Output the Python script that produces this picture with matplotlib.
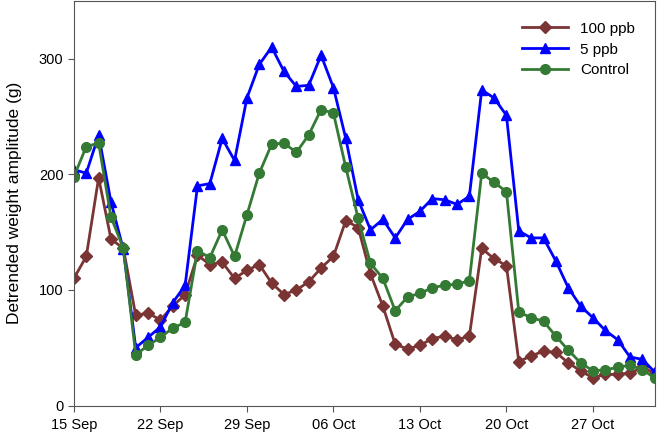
import datetime as dt
import matplotlib
matplotlib.use("Agg")
import matplotlib.pyplot as plt
import matplotlib.dates as mdates

plt.rcParams['font.family'] = ['Liberation Sans', 'DejaVu Sans']

# one value per day, 15 Sep to 1 Nov
inicio = dt.date(2012, 9, 15)
dias = [inicio + dt.timedelta(days=i) for i in range(48)]
marcas = [inicio + dt.timedelta(days=7 * k) for k in range(7)]

ppb100 = [110, 129, 197, 144, 136, 78, 80, 74, 86, 96,
          130, 122, 124, 110, 117, 122, 106, 96, 100, 107,
          119, 129, 160, 154, 114, 86, 53, 49, 52, 58,
          60, 57, 60, 136, 127, 121, 38, 43, 47, 46,
          37, 30, 24, 27, 27, 28, 33, 28]

ppb5 = [204, 201, 234, 176, 135, 50, 59, 68, 89, 104,
        190, 192, 231, 212, 266, 295, 310, 289, 276, 277,
        303, 275, 231, 178, 152, 161, 145, 161, 168, 179,
        178, 174, 181, 273, 266, 251, 151, 145, 145, 125,
        102, 86, 76, 65, 57, 42, 40, 29]

controle = [198, 224, 227, 163, 136, 44, 52, 59, 67, 72,
            134, 128, 152, 129, 165, 201, 226, 227, 219, 234,
            256, 253, 206, 162, 123, 110, 82, 94, 97, 102,
            104, 105, 108, 201, 193, 185, 81, 76, 73, 60,
            48, 37, 30, 31, 33, 35, 31, 24]

fig = plt.figure(figsize=(6.6, 4.38), dpi=100)
ax = fig.add_axes([0.112, 0.074, 0.88, 0.924])

ax.plot(dias, ppb100, color="#7a3434", marker="D", markersize=6, linewidth=2, label="100 ppb")
ax.plot(dias, ppb5, color="#0000ff", marker="^", markersize=7, linewidth=2, label="5 ppb")
ax.plot(dias, controle, color="#347a34", marker="o", markersize=7, linewidth=2, label="Control")

ax.set_xlim(dias[0], dias[-1])
ax.set_ylim(0, 350)
ax.set_yticks([0, 100, 200, 300])
ax.set_xticks(marcas)
ax.xaxis.set_major_formatter(mdates.DateFormatter("%d %b"))

ax.set_ylabel("Detrended weight amplitude (g)", fontsize=12.5, labelpad=12)
ax.tick_params(labelsize=10.5, direction="out", length=4, color="#555555")
ax.tick_params(axis="x", pad=5)
for s in ax.spines.values():
    s.set_color("#555555")

ax.legend(loc="upper right", frameon=False, fontsize=11, handlelength=3.0,
          borderaxespad=0.3, labelspacing=0.45, bbox_to_anchor=(0.985, 0.975))

fig.savefig("out.png", dpi=100)
